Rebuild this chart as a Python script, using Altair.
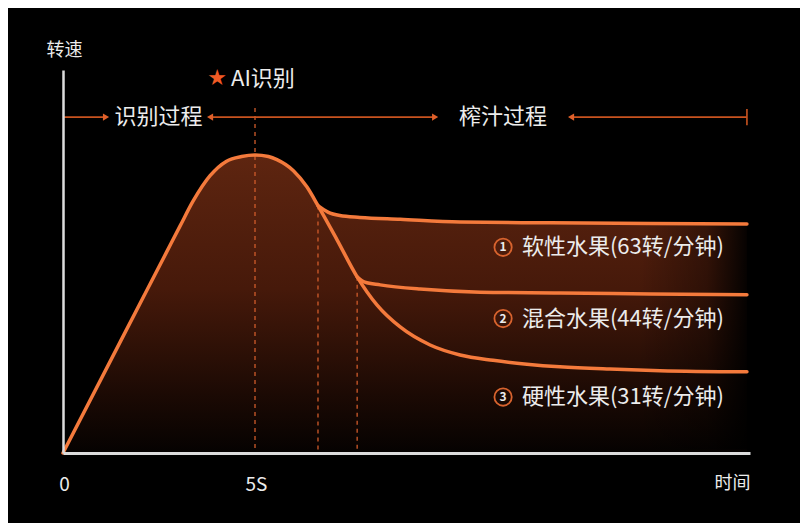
import altair as alt
import pandas as pd

# ---- data (time in s, speed in relative units) ----
main_t = [0, 1.5, 2.7, 3.05, 3.39, 3.83, 4.26, 4.65, 5.0, 5.35, 5.57, 6.0, 6.35, 6.64, 7.14, 7.66, 8.18, 8.78, 9.56, 10.34, 11.20, 12.08, 12.94, 14.24, 15.55, 17.81]
main_v = [0, 29.2, 52.5, 59.3, 65.8, 72.4, 76.2, 77.4, 77.8, 77.4, 76.6, 73.7, 69.5, 64.6, 55.6, 46.0, 38.6, 32.9, 28.2, 25.6, 24.2, 23.2, 22.5, 21.9, 21.5, 21.2]
soft_t = [6.64, 6.90, 7.21, 7.73, 8.78, 10.34, 12.68, 15.29, 17.81]
soft_v = [64.6, 62.9, 62.0, 61.5, 61.0, 60.3, 60.1, 59.9, 59.8]
mixed_t = [7.66, 7.86, 8.26, 9.30, 10.86, 12.94, 15.29, 17.81]
mixed_v = [46.0, 44.6, 43.9, 42.8, 42.0, 41.8, 41.5, 41.3]

dash_t = [5.0, 6.64, 7.66]
dash_top = [90.1, 64.6, 46.0]

phase_labels = ["识别过程", "榨汁过程"]
phase_t = [2.49, 11.46]
phase_v = 87.7
seg_t = [0, 3.83, 13.23]
seg_t2 = [1.12, 9.69, 17.81]
head_t = [1.12, 3.83, 9.69, 13.23]
head_dir = ["right", "left", "right", "left"]

fruit_labels = ["软性水果(63转/分钟)", "混合水果(44转/分钟)", "硬性水果(31转/分钟)"]
fruit_nums = ["1", "2", "3"]
fruit_v = [53.7, 35.1, 14.6]
fruit_circle_t = 11.46
fruit_text_t = 11.95

ORANGE = "#f47a3c"
DIM = "#cc5a2a"
WHITE = "#ececec"
FONT = "Noto Sans CJK SC"

# ---- frames ----
n_main_env = main_t.index(soft_t[0]) + 1
env_df = pd.DataFrame({"t": main_t[:n_main_env] + soft_t[1:],
                       "v": main_v[:n_main_env] + soft_v[1:]})
lines_df = pd.concat([
    pd.DataFrame({"t": main_t, "v": main_v, "s": "hard"}),
    pd.DataFrame({"t": soft_t, "v": soft_v, "s": "soft"}),
    pd.DataFrame({"t": mixed_t, "v": mixed_v, "s": "mixed"}),
])
dash_df = pd.DataFrame({"t": dash_t, "v": dash_top, "v2": [0] * len(dash_t)})
seg_df = pd.DataFrame({"t": seg_t, "t2": seg_t2, "v": [phase_v] * len(seg_t)})
head_df = pd.DataFrame({"t": head_t, "v": [phase_v] * len(head_t), "d": head_dir})
end_df = pd.DataFrame({"t": [seg_t2[-1]], "v": [89.8], "v2": [85.6]})
phase_df = pd.DataFrame({"t": phase_t, "v": [phase_v] * 2, "label": phase_labels})
star_df = pd.DataFrame({"t": [4.01], "v": [97.9], "label": ["★"]})
ai_df = pd.DataFrame({"t": [4.375], "v": [97.7], "label": ["AI识别"]})
fruit_df = pd.DataFrame({"tc": [fruit_circle_t] * 3, "t": [fruit_text_t] * 3,
                         "v": fruit_v, "num": fruit_nums, "label": fruit_labels})
fade_df = pd.DataFrame({"t": [15.0], "t2": [17.95], "v": [0.9], "v2": [68]})

xs = alt.Scale(domain=[0, 17.89], nice=False, zero=False)
ys = alt.Scale(domain=[0, 100], nice=False)

X = alt.X("t:Q", scale=xs, axis=alt.Axis(
    values=[0, 5], labelExpr="datum.value == 0 ? '0' : '5S'", ticks=False, grid=False,
    domainColor="#dcdcdc", domainWidth=3, labelColor=WHITE, labelFontSize=19,
    labelPadding=22, labelFont=FONT, labelFlush=False, labelOffset=1, zindex=1,
    title="时间", titleColor=WHITE, titleFontSize=18, titleFontWeight="normal", titleFont=FONT,
    titleX=669, titleY=30, titleAlign="center", titleBaseline="middle"))
Y = alt.Y("v:Q", scale=ys, axis=alt.Axis(
    labels=False, ticks=False, grid=False, domainColor="#dcdcdc", domainWidth=2.5, zindex=1,
    title="转速", titleColor=WHITE, titleFontSize=18, titleFontWeight="normal", titleFont=FONT,
    titleAngle=0, titleX=1, titleY=-20, titleAlign="center", titleBaseline="middle"))

area = alt.Chart(env_df).mark_area(
    interpolate="monotone",
    color=alt.Gradient(gradient="linear", x1=0, x2=0, y1=0, y2=1, stops=[
        alt.GradientStop(color="#5e2510", offset=0),
        alt.GradientStop(color="#46190a", offset=0.45),
        alt.GradientStop(color="#1c0a04", offset=0.8),
        alt.GradientStop(color="#050201", offset=1),
    ])).encode(x=X, y=Y)

fade = alt.Chart(fade_df).mark_rect(
    color=alt.Gradient(gradient="linear", x1=0, x2=1, y1=0, y2=0, stops=[
        alt.GradientStop(color="rgba(0,0,0,0)", offset=0),
        alt.GradientStop(color="rgba(0,0,0,0.35)", offset=0.6),
        alt.GradientStop(color="rgba(0,0,0,1)", offset=1),
    ])).encode(x="t:Q", x2="t2:Q", y="v:Q", y2="v2:Q")

dashes = alt.Chart(dash_df).mark_rule(color=DIM, strokeWidth=1.4, strokeDash=[4, 4], opacity=0.95).encode(
    x="t:Q", y="v:Q", y2="v2:Q")

lines = alt.Chart(lines_df).mark_line(interpolate="monotone", color=ORANGE, strokeWidth=3.5,
                                      strokeCap="round").encode(
    x="t:Q", y="v:Q", detail="s:N")

segs = alt.Chart(seg_df).mark_rule(color="#c9531f", strokeWidth=1.6).encode(x="t:Q", x2="t2:Q", y="v:Q")
heads = alt.Chart(head_df).mark_point(filled=True, size=50, opacity=1, color="#e0602a").encode(
    x="t:Q", y="v:Q",
    shape=alt.Shape("d:N", scale=alt.Scale(domain=["right", "left"], range=["triangle-right", "triangle-left"]),
                    legend=None))
endtick = alt.Chart(end_df).mark_rule(color="#c9531f", strokeWidth=1.6).encode(x="t:Q", y="v:Q", y2="v2:Q")

phase_text = alt.Chart(phase_df).mark_text(font=FONT, fontSize=22, color=WHITE, baseline="middle").encode(
    x="t:Q", y="v:Q", text="label:N")
star = alt.Chart(star_df).mark_text(font="DejaVu Sans", fontSize=22, color="#f05a24", baseline="middle").encode(
    x="t:Q", y="v:Q", text="label:N")
ai = alt.Chart(ai_df).mark_text(font=FONT, fontSize=22, color=WHITE, baseline="middle", align="left").encode(
    x="t:Q", y="v:Q", text="label:N")

circles = alt.Chart(fruit_df).mark_point(shape="circle", size=300, stroke="#d8632e", strokeWidth=1.8,
                                         filled=False, opacity=1).encode(x=alt.X("tc:Q"), y="v:Q")
nums = alt.Chart(fruit_df).mark_text(font=FONT, fontSize=12, fontWeight="bold", color=WHITE,
                                     baseline="middle").encode(x=alt.X("tc:Q"), y="v:Q", text="num:N")
fruit_text = alt.Chart(fruit_df).mark_text(font=FONT, fontSize=22, color=WHITE, baseline="middle",
                                           align="left").encode(x="t:Q", y="v:Q", text="label:N")

chart = alt.layer(area, fade, dashes, lines, segs, heads, endtick, phase_text, star, ai,
                  circles, nums, fruit_text).properties(
    width=687, height=383,
    autosize=alt.AutoSizeParams(type="none"),
    padding={"left": 55, "top": 62, "right": 50, "bottom": 70},
    background="#000000",
).configure(font=FONT).configure_view(strokeWidth=0, stroke=None)

chart.save("out.html", embed_options={"renderer": "svg", "actions": False})
